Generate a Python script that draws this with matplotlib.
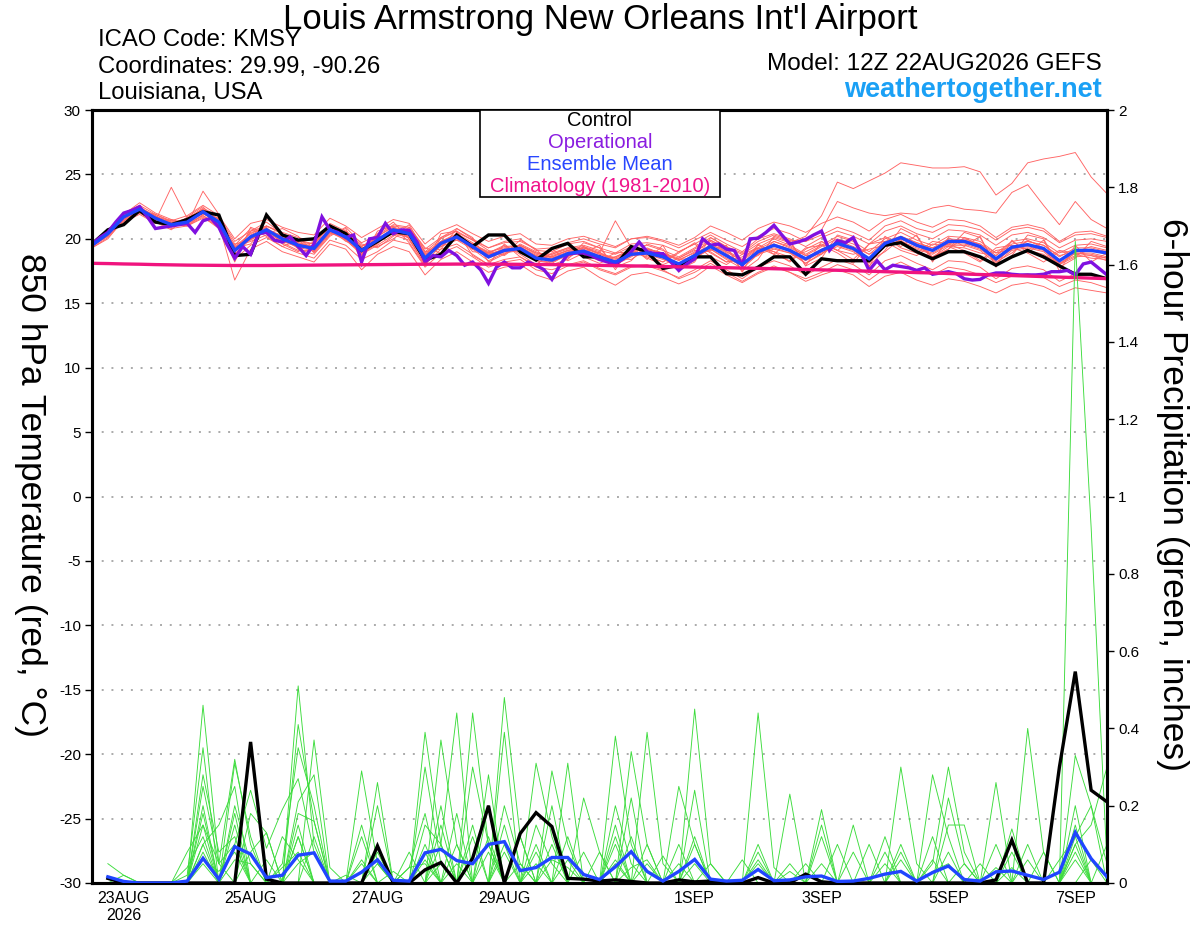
import numpy as np
import matplotlib
matplotlib.use("Agg")
import matplotlib.pyplot as plt
from matplotlib.patches import Rectangle
from matplotlib.ticker import FixedLocator, FixedFormatter

plt.rcParams['font.family'] = ['Liberation Sans', 'DejaVu Sans']

# ---------------- DATA ----------------
title = "Louis Armstrong New Orleans Int'l Airport"
station_lines = ["ICAO Code: KMSY", "Coordinates: 29.99, -90.26", "Louisiana, USA"]
model_line = "Model: 12Z 22AUG2026 GEFS"
site_line = "weathertogether.net"

# forecast hours (6-hourly for ensemble, 3-hourly for operational)
hours6 = np.arange(0, 385, 6)
hours3 = np.arange(0, 385, 3)
hours_p = np.arange(6, 385, 6)

tick_hours = [12, 60, 108, 156, 228, 276, 324, 372]
tick_labels = ["23AUG\n2026", "25AUG", "27AUG", "29AUG", "1SEP", "3SEP", "5SEP", "7SEP"]

# 850 hPa temperature (deg C)
control_t = [19.6, 20.7, 21.1, 22.2, 21.3, 21.1, 21.5, 22.1, 21.85, 18.7, 18.8, 21.85, 20.3,
             19.9, 20.0, 21.0, 20.4, 19.1, 19.8, 20.55, 20.4, 18.35, 18.8, 20.3, 19.4, 20.3,
             20.3, 19.0, 18.35, 19.25, 19.65, 18.6, 18.6, 17.95, 19.4, 19.0, 17.7, 17.95, 18.6,
             18.6, 17.3, 17.2, 17.8, 18.6, 18.6, 17.25, 18.45, 18.3, 18.3, 18.3, 19.5, 19.7,
             19.0, 18.45, 19.0, 19.0, 18.6, 17.95, 18.6, 19.1, 18.6, 17.9, 17.25, 17.25, 16.9]

mean_t = [19.5, 20.4, 21.7, 22.3, 21.6, 21.1, 21.3, 22.1, 21.3, 19.1, 20.15, 20.7, 20.0,
          19.5, 19.25, 20.7, 20.15, 19.1, 19.9, 20.7, 20.4, 18.5, 19.65, 20.15, 19.4, 18.6,
          19.1, 19.25, 18.5, 18.35, 18.85, 19.05, 18.6, 18.2, 18.8, 18.9, 18.6, 18.05, 18.7,
          19.4, 18.7, 18.0, 19.0, 19.5, 19.1, 18.45, 19.1, 19.65, 19.25, 18.45, 19.65, 20.1,
          19.5, 19.1, 19.8, 19.8, 19.4, 18.45, 19.35, 19.55, 19.25, 18.3, 19.1, 19.1, 18.9]

operational_t = [19.6, 20.1, 20.5, 21.3, 22.0, 22.2, 22.5, 21.7, 20.8, 20.9, 21.0, 21.1, 21.2, 20.5, 21.4, 21.6,
                 20.9, 19.6, 18.5, 19.4, 18.8, 20.4, 20.5, 19.9, 19.75, 20.15, 19.4, 18.7, 19.6, 21.7, 20.7, 20.5,
                 20.1, 20.3, 18.2, 20.0, 20.1, 21.2, 20.4, 20.7, 20.65, 19.75, 18.2, 18.7, 18.6, 19.1, 18.7, 17.95,
                 18.2, 17.6, 16.55, 17.8, 18.2, 17.75, 17.75, 18.2, 17.95, 17.6, 16.85, 17.95, 18.8, 18.9, 18.9, 18.7,
                 18.4, 18.2, 18.05, 18.45, 19.0, 19.75, 19.0, 18.85, 18.85, 18.2, 17.55, 18.05, 18.45, 20.0, 19.5, 19.6,
                 19.2, 19.1, 17.95, 20.0, 20.05, 20.5, 21.05, 20.3, 19.6, 19.75, 19.95, 20.3, 20.6, 19.1, 19.85, 19.7,
                 20.1, 18.85, 17.55, 18.3, 17.6, 17.95, 17.85, 17.75, 17.55, 17.75, 17.25, 17.35, 17.45, 17.3, 16.9, 16.8,
                 16.85, 17.2, 17.35, 17.35, 17.25, 17.2, 17.2, 17.2, 17.25, 17.45, 17.45, 17.55, 17.2, 18.05, 18.2, 17.7, 17.2]

climatology_t = [18.10, 18.08, 18.05, 18.03, 18.00, 17.98, 17.96, 17.95, 17.94, 17.93, 17.93, 17.93, 17.94,
                 17.95, 17.96, 17.97, 17.98, 17.99, 18.00, 18.01, 18.02, 18.03, 18.03, 18.04, 18.04, 18.04,
                 18.03, 18.02, 18.01, 18.00, 17.98, 17.96, 17.94, 17.92, 17.90, 17.88, 17.85, 17.83, 17.81,
                 17.78, 17.76, 17.73, 17.71, 17.68, 17.65, 17.62, 17.59, 17.56, 17.52, 17.49, 17.45, 17.42,
                 17.38, 17.35, 17.31, 17.27, 17.23, 17.19, 17.15, 17.11, 17.07, 17.03, 16.99, 16.95, 16.91]

t_mem01 = [19.6, 20.6, 22.0, 22.6, 21.9, 21.3, 21.5, 22.4, 21.7, 19.8, 20.6, 21.0, 20.5,
           20.1, 19.8, 21.2, 20.6, 19.7, 20.3, 21.1, 20.9, 19.2, 20.1, 20.8, 20.0, 19.3,
           19.8, 20.0, 19.1, 19.0, 19.6, 19.8, 19.3, 18.9, 19.6, 19.7, 19.5, 19.0, 19.6,
           20.3, 19.6, 19.0, 20.0, 20.4, 20.0, 19.4, 20.1, 20.6, 20.2, 19.6, 20.6, 21.0,
           20.4, 20.0, 20.7, 20.6, 20.3, 19.5, 20.3, 20.5, 20.1, 19.3, 19.9, 20.0, 19.8]
t_mem02 = [19.3, 20.1, 21.4, 22.0, 21.3, 20.8, 21.0, 21.7, 20.8, 18.4, 19.5, 20.1, 19.4,
           18.9, 18.5, 19.9, 19.5, 18.4, 19.0, 19.9, 19.6, 17.8, 18.9, 19.4, 18.6, 17.8,
           18.2, 18.4, 17.6, 17.3, 17.9, 18.2, 17.6, 17.2, 17.8, 17.9, 17.5, 17.0, 17.6,
           18.3, 17.6, 16.9, 17.8, 18.3, 17.9, 17.2, 17.8, 18.4, 18.0, 17.2, 18.3, 18.7,
           18.1, 17.6, 18.3, 18.2, 17.8, 16.9, 17.7, 17.9, 17.6, 16.7, 17.3, 17.2, 16.9]
t_mem03 = [19.4, 20.3, 21.9, 22.8, 22.0, 21.5, 21.2, 21.8, 20.9, 18.9, 20.6, 21.3, 20.4,
           19.2, 18.8, 20.2, 20.9, 19.6, 19.3, 20.2, 21.1, 19.0, 19.2, 20.8, 20.1, 18.2,
           18.8, 19.9, 19.2, 18.0, 18.4, 19.7, 19.3, 17.8, 18.3, 19.6, 19.2, 17.6, 18.2,
           20.1, 19.4, 17.5, 18.4, 20.2, 19.8, 17.9, 18.5, 20.3, 19.9, 17.9, 19.1, 20.8,
           20.2, 18.5, 19.2, 20.5, 20.1, 17.9, 18.7, 20.3, 20.0, 17.8, 18.5, 19.8, 19.4]
t_mem04 = [19.7, 20.5, 21.5, 22.1, 21.4, 24.0, 21.6, 22.3, 21.5, 19.4, 19.8, 20.3, 19.7,
           19.8, 19.6, 21.0, 20.4, 18.7, 20.4, 21.3, 20.0, 18.0, 20.1, 20.6, 19.0, 18.9,
           19.5, 18.8, 18.0, 18.9, 19.3, 18.6, 18.1, 18.6, 19.2, 18.5, 18.0, 18.5, 19.1,
           19.0, 18.2, 18.4, 19.5, 19.0, 18.6, 19.0, 19.6, 19.1, 18.8, 19.2, 19.5, 19.9,
           19.0, 18.6, 19.4, 19.3, 18.9, 18.7, 19.8, 19.1, 18.8, 18.0, 18.6, 18.7, 18.3]
t_mem05 = [19.6, 20.2, 21.6, 22.4, 21.8, 21.0, 21.1, 23.7, 21.9, 19.0, 20.0, 20.5, 20.2,
           19.6, 19.0, 20.5, 20.0, 19.3, 19.7, 20.5, 20.2, 18.8, 19.4, 19.9, 19.6, 18.9,
           18.8, 19.5, 18.9, 18.6, 18.5, 19.3, 18.8, 18.5, 18.4, 19.2, 18.9, 18.4, 18.5,
           19.6, 19.0, 18.3, 18.7, 19.8, 19.3, 18.7, 18.8, 19.9, 19.4, 18.8, 19.4, 20.2,
           19.7, 19.3, 19.6, 20.0, 19.6, 18.9, 19.2, 19.8, 19.5, 18.7, 19.0, 19.4, 19.1]
t_mem06 = [19.5, 20.4, 21.8, 22.2, 21.5, 21.2, 21.4, 22.0, 21.1, 16.8, 19.2, 19.8, 19.0,
           18.6, 18.2, 19.6, 19.2, 17.6, 18.8, 19.4, 19.0, 17.2, 18.4, 19.0, 18.2, 17.4,
           17.8, 18.0, 17.2, 16.8, 17.5, 17.8, 17.0, 16.4, 17.2, 17.4, 17.0, 16.5, 17.0,
           17.9, 17.2, 16.6, 17.3, 17.8, 17.4, 16.9, 17.4, 18.0, 17.6, 16.8, 17.7, 18.2,
           17.6, 17.2, 17.8, 17.6, 17.2, 16.6, 17.1, 17.3, 17.0, 16.3, 16.8, 16.6, 16.2]
t_mem07 = [19.4, 20.6, 21.8, 22.5, 21.7, 21.4, 21.8, 22.6, 21.8, 20.0, 21.2, 21.5, 20.9,
           20.5, 20.3, 21.6, 21.0, 20.1, 20.8, 21.5, 21.2, 19.6, 20.6, 21.1, 20.4, 19.8,
           20.2, 20.4, 19.6, 19.5, 20.0, 20.2, 19.8, 19.4, 20.0, 20.1, 19.8, 19.3, 19.9,
           20.5, 19.9, 19.4, 20.2, 20.8, 20.4, 19.8, 20.3, 20.9, 20.5, 19.9, 21.0, 21.4,
           20.8, 20.5, 21.1, 21.0, 20.7, 19.9, 20.7, 20.9, 20.6, 19.7, 20.3, 20.4, 20.1]
t_mem08 = [19.5, 20.3, 21.3, 21.9, 21.2, 21.5, 21.0, 21.6, 21.0, 19.5, 20.8, 20.2, 19.4,
           19.9, 19.0, 20.4, 20.6, 19.5, 19.4, 20.0, 20.9, 19.3, 18.9, 20.5, 19.9, 19.1,
           18.7, 19.6, 19.0, 18.5, 18.6, 19.4, 19.0, 18.0, 18.6, 19.3, 18.8, 17.8, 18.3,
           19.6, 18.9, 17.9, 18.8, 19.6, 19.0, 18.1, 18.8, 19.8, 19.3, 18.3, 19.0, 20.0,
           19.6, 18.6, 19.2, 20.1, 19.5, 18.2, 18.9, 19.9, 19.3, 18.1, 18.7, 19.2, 18.8]
t_mem09 = [19.3, 20.0, 21.5, 22.3, 21.6, 20.9, 21.3, 22.1, 21.4, 19.3, 19.6, 21.0, 20.4,
           19.3, 19.5, 21.1, 19.9, 18.9, 20.2, 20.9, 20.0, 18.3, 19.8, 19.9, 19.2, 18.8,
           19.2, 19.0, 18.4, 18.7, 19.1, 18.8, 18.3, 18.9, 19.0, 18.6, 18.2, 19.0, 19.6,
           18.6, 18.0, 18.8, 19.3, 18.8, 18.3, 19.3, 19.5, 18.9, 18.1, 19.6, 19.8, 19.1,
           18.7, 19.6, 19.4, 18.9, 18.2, 19.1, 19.3, 18.9, 18.2, 19.0, 18.8, 18.5, 18.4]
t_mem10 = [19.6, 20.4, 21.9, 22.2, 21.4, 21.0, 21.2, 22.2, 21.2, 18.6, 20.3, 20.9, 19.7,
           19.1, 19.1, 20.9, 20.3, 18.9, 19.6, 20.9, 20.6, 18.1, 19.5, 20.3, 19.2, 18.3,
           18.9, 19.1, 18.3, 18.1, 18.8, 19.0, 18.4, 18.0, 18.8, 18.8, 18.5, 17.8, 18.6,
           19.2, 18.4, 17.7, 18.8, 19.2, 18.9, 18.1, 18.9, 19.4, 19.0, 18.1, 19.4, 19.7,
           19.2, 18.8, 19.5, 19.5, 19.1, 18.1, 19.1, 19.3, 19.0, 18.0, 18.9, 18.8, 18.5]
t_mem11 = [19.5, 20.5, 21.6, 22.4, 21.6, 21.3, 21.2, 22.0, 21.4, 19.3, 20.0, 20.8, 20.2,
           19.7, 19.4, 20.6, 20.1, 19.2, 20.0, 20.7, 20.5, 18.6, 19.7, 20.1, 19.6, 19.0,
           19.3, 19.5, 18.8, 18.6, 19.1, 19.3, 18.9, 21.4, 19.3, 19.2, 18.9, 18.3, 19.0,
           19.8, 19.0, 18.3, 19.2, 19.8, 19.4, 18.7, 19.4, 20.0, 19.6, 18.8, 19.8, 20.2,
           19.7, 19.3, 20.0, 19.9, 19.6, 18.7, 19.6, 19.8, 19.5, 18.6, 19.3, 19.3, 19.0]
t_mem12 = [19.4, 20.2, 21.7, 22.1, 21.7, 21.0, 21.4, 22.0, 21.2, 18.8, 20.0, 20.5, 19.8,
           19.4, 19.2, 20.6, 20.0, 18.8, 19.7, 20.5, 20.2, 18.4, 19.6, 20.0, 19.3, 18.5,
           19.0, 19.1, 18.3, 18.2, 18.7, 18.9, 18.4, 18.1, 18.7, 18.8, 18.4, 17.9, 18.5,
           19.2, 18.5, 17.9, 18.9, 19.3, 18.9, 18.3, 19.0, 19.5, 19.1, 18.3, 19.5, 19.8,
           19.3, 18.9, 19.6, 19.6, 19.2, 18.3, 19.2, 19.4, 19.1, 18.1, 18.9, 18.9, 18.6]
t_mem13 = [19.6, 20.7, 21.9, 22.2, 21.3, 20.7, 21.7, 22.5, 21.0, 18.2, 20.9, 20.4, 20.8,
           20.2, 18.9, 20.3, 20.8, 18.3, 20.6, 21.0, 19.7, 17.9, 20.4, 20.6, 18.7, 18.0,
           19.6, 18.6, 17.9, 19.2, 18.3, 18.9, 19.5, 17.6, 19.4, 18.4, 19.5, 17.4, 18.9,
           19.1, 19.5, 17.4, 19.6, 18.8, 19.9, 17.9, 19.8, 19.1, 20.0, 17.8, 20.2, 19.4,
           20.3, 18.2, 20.1, 19.4, 20.2, 17.8, 19.9, 18.9, 19.9, 17.5, 19.5, 18.2, 18.9]
t_mem14 = [19.5, 20.4, 21.6, 22.3, 21.5, 21.0, 21.2, 22.1, 21.2, 19.1, 20.1, 20.6, 19.9,
           19.3, 19.1, 20.5, 19.9, 18.8, 19.5, 20.3, 19.9, 18.0, 19.2, 19.6, 18.8, 18.0,
           18.4, 18.6, 17.8, 17.6, 18.0, 18.3, 17.7, 17.3, 17.9, 18.0, 17.6, 16.9, 17.4,
           18.1, 17.4, 16.7, 17.4, 17.9, 17.4, 16.7, 17.2, 17.6, 17.2, 16.3, 17.1, 17.4,
           16.8, 16.4, 16.9, 16.7, 16.3, 15.8, 16.4, 16.6, 16.3, 15.7, 16.2, 16.0, 15.8]
t_mem15 = [19.4, 20.5, 21.8, 22.0, 21.6, 21.2, 21.0, 21.9, 21.6, 19.6, 19.9, 20.6, 20.3,
           19.5, 19.7, 20.5, 20.2, 19.0, 19.7, 20.8, 20.6, 18.9, 19.8, 20.4, 19.7, 18.7,
           19.2, 19.4, 18.6, 18.8, 19.2, 19.4, 18.8, 18.4, 19.0, 19.2, 18.8, 18.4, 18.9,
           19.9, 19.1, 18.4, 19.3, 20.0, 19.5, 18.8, 19.5, 20.2, 19.8, 19.0, 20.0, 20.5,
           19.9, 19.5, 20.2, 20.1, 19.8, 18.9, 19.8, 20.0, 19.7, 18.9, 19.5, 19.6, 19.3]
t_mem16 = [19.6, 20.4, 21.7, 22.4, 21.8, 21.2, 21.6, 22.3, 21.5, 19.4, 20.4, 21.0, 20.4,
           19.9, 19.6, 21.0, 20.5, 19.4, 20.2, 21.0, 20.8, 19.0, 20.0, 20.6, 19.9, 19.3,
           19.7, 19.8, 19.2, 19.3, 19.7, 20.0, 19.6, 19.3, 20.0, 20.2, 19.9, 19.5, 20.1,
           21.0, 20.5, 19.9, 20.8, 21.3, 21.0, 20.5, 21.2, 21.7, 21.3, 20.6, 21.5, 21.9,
           21.3, 20.9, 21.5, 21.4, 21.0, 20.1, 20.9, 21.1, 20.8, 19.8, 20.5, 20.6, 20.2]
t_mem17 = [19.5, 20.3, 21.4, 22.2, 21.9, 21.4, 21.1, 21.8, 21.1, 19.2, 20.5, 20.8, 19.6,
           19.0, 19.8, 20.8, 19.8, 19.4, 20.1, 20.4, 20.1, 18.7, 19.4, 20.3, 19.3, 18.9,
           19.0, 19.4, 18.7, 18.2, 18.9, 19.0, 18.5, 18.6, 19.1, 18.7, 18.2, 18.9, 19.7,
           18.9, 18.2, 18.6, 19.3, 19.0, 18.2, 19.2, 19.8, 19.1, 18.4, 19.6, 20.1, 19.3,
           18.9, 19.8, 19.6, 19.1, 18.3, 19.3, 19.5, 19.2, 18.5, 19.1, 18.9, 18.7, 18.5]
t_mem18 = [19.4, 20.6, 21.9, 22.1, 21.4, 21.1, 21.5, 22.0, 21.6, 19.0, 20.0, 20.6, 20.1,
           19.7, 19.2, 20.6, 20.0, 19.1, 19.9, 20.7, 20.3, 18.6, 19.8, 20.1, 19.5, 18.7,
           19.1, 19.3, 18.6, 18.5, 19.0, 19.2, 18.7, 18.3, 18.9, 19.0, 18.6, 18.1, 18.8,
           19.5, 18.8, 18.1, 19.1, 19.6, 19.2, 18.5, 19.2, 19.7, 19.3, 18.5, 19.7, 20.0,
           19.4, 19.1, 19.8, 19.7, 19.3, 18.4, 19.3, 19.5, 19.2, 18.3, 19.1, 19.1, 18.8]
t_mem19 = [19.5, 20.3, 21.6, 22.3, 21.7, 21.1, 21.4, 22.0, 21.2, 19.2, 20.1, 20.6, 20.0,
           19.4, 19.3, 20.6, 20.1, 19.2, 19.9, 20.6, 20.4, 18.7, 19.6, 20.2, 19.5, 18.8,
           19.2, 19.3, 18.7, 18.6, 19.1, 19.3, 18.9, 18.5, 19.1, 19.2, 18.9, 18.5, 19.2,
           19.9, 19.3, 18.8, 19.6, 20.1, 19.7, 20.2, 21.8, 24.4, 23.9, 24.5, 25.1, 25.9,
           25.7, 25.5, 25.5, 25.6, 25.2, 23.4, 24.3, 25.9, 26.2, 26.4, 26.7, 24.8, 23.5]
t_mem20 = [19.6, 20.5, 21.7, 22.2, 21.5, 21.2, 21.3, 22.2, 21.3, 19.3, 20.2, 20.7, 20.1,
           19.6, 19.4, 20.8, 20.3, 19.2, 20.0, 20.8, 20.5, 18.8, 19.8, 20.3, 19.6, 18.9,
           19.4, 19.5, 18.9, 18.8, 19.3, 19.5, 19.1, 18.8, 19.4, 19.5, 19.1, 18.6, 19.3,
           20.1, 19.4, 18.9, 19.8, 20.3, 19.9, 19.8, 20.7, 22.9, 22.4, 22.0, 21.8, 22.0,
           21.9, 22.4, 22.6, 22.3, 22.2, 22.0, 23.6, 24.2, 22.6, 21.1, 22.9, 21.5, 20.8]
temp_members = [t_mem01, t_mem02, t_mem03, t_mem04, t_mem05, t_mem06, t_mem07, t_mem08, t_mem09, t_mem10,
                t_mem11, t_mem12, t_mem13, t_mem14, t_mem15, t_mem16, t_mem17, t_mem18, t_mem19, t_mem20]

# 6-hour precipitation (inches), hours 6..384
control_p = [0.012, 0, 0, 0, 0, 0, 0, 0, 0, 0.365, 0.01, 0, 0, 0, 0, 0,
             0, 0.096, 0, 0, 0.034, 0.053, 0, 0.064, 0.20, 0, 0.128, 0.182, 0.146, 0.012, 0.01, 0.005,
             0.008, 0.004, 0, 0, 0.008, 0.003, 0.005, 0, 0, 0.014, 0, 0, 0.023, 0.003, 0, 0,
             0, 0, 0, 0, 0, 0, 0, 0, 0.008, 0.111, 0, 0, 0.30, 0.547, 0.24, 0.21]
mean_p = [0.016, 0.004, 0, 0, 0, 0.005, 0.064, 0.01, 0.094, 0.075, 0.014, 0.02, 0.072, 0.078, 0.005, 0.005,
          0.028, 0.06, 0.007, 0.005, 0.078, 0.087, 0.058, 0.05, 0.10, 0.107, 0.032, 0.04, 0.066, 0.066, 0.022, 0.009,
          0.042, 0.081, 0.03, 0.005, 0.03, 0.061, 0.01, 0.005, 0.007, 0.035, 0.006, 0.008, 0.016, 0.018, 0.004, 0.005,
          0.012, 0.023, 0.03, 0.005, 0.027, 0.044, 0.009, 0.005, 0.029, 0.031, 0.02, 0.009, 0.028, 0.131, 0.063, 0.016]

p_mem01 = [0, 0, 0, 0, 0, 0, .46, .05, 0, 0, 0, 0, .12, 0, 0, 0,
           0, 0, 0, 0, .39, .1, 0, 0, 0, .2, .05, 0, 0, 0, 0, 0,
           .38, .1, 0, 0, 0, 0, 0, 0, 0, .1, 0, 0, 0, 0, 0, 0,
           0, 0, 0, 0, .05, .30, .08, 0, 0, 0, 0, 0, 0, .15, 0, 0]
p_mem02 = [0, 0, 0, 0, 0, .02, .35, 0, .2, .05, 0, 0, .51, .1, 0, 0,
           0, 0, 0, 0, 0, 0, 0, .44, .1, 0, 0, .15, .05, 0, 0, 0,
           0, 0, 0, 0, 0, .45, .05, 0, 0, 0, 0, 0, 0, 0, 0, 0,
           0, 0, .1, 0, 0, 0, 0, 0, 0, 0, 0, 0, 0, 1.66, .92, .05]
p_mem03 = [0, 0, 0, 0, 0, 0, .25, .05, .32, .1, 0, 0, 0, .37, .04, 0,
           0, .26, 0, 0, 0, .1, .44, 0, 0, 0, 0, 0, .29, .1, 0, 0,
           0, 0, .39, .05, 0, 0, 0, 0, 0, 0, 0, 0, 0, .19, 0, 0,
           0, 0, 0, 0, 0, 0, 0, 0, 0, 0, .40, .08, 0, 0, 0, 0]
p_mem04 = [.05, .02, 0, 0, 0, 0, .1, 0, .31, .12, 0, 0, .41, .16, 0, 0,
           .29, .05, 0, 0, 0, .37, .1, 0, 0, .48, .12, 0, 0, .31, 0, 0,
           0, .34, .1, 0, 0, 0, 0, 0, 0, 0, 0, .23, 0, 0, 0, 0,
           0, 0, 0, 0, .28, .12, 0, 0, .26, 0, 0, 0, 0, .33, .2, .05]
p_mem05 = [0, 0, 0, 0, 0, 0, .2, 0, .1, .24, .09, .19, .27, .08, 0, 0,
           0, .08, 0, 0, .3, .05, 0, .3, .1, 0, 0, .31, .12, 0, 0, 0,
           .2, .05, 0, 0, .25, .1, 0, 0, 0, .44, .04, 0, 0, 0, 0, 0,
           0, .12, 0, 0, 0, .22, .05, 0, 0, 0, 0, 0, 0, .1, .15, .3]
p_mem06 = [0, 0, 0, 0, 0, .08, .15, 0, 0, .18, .13, 0, .21, .28, 0, .02,
           0, .2, 0, .04, .18, 0, 0, 0, .28, 0, 0, 0, .2, 0, .22, .08,
           0, 0, 0, 0, 0, .24, 0, 0, 0, 0, 0, 0, 0, .15, 0, 0,
           0, 0, .3, .05, 0, 0, 0, 0, 0, .14, 0, 0, 0, 0, 0, 0]
p_mem07 = [0, 0, 0, 0, 0, 0, .1, .15, .25, 0, 0, 0, .12, 0, 0, 0,
           .05, 0, 0, .08, 0, .2, 0, 0, 0, .39, 0, 0, 0, .12, 0, 0,
           .1, 0, .1, 0, 0, .1, 0, 0, 0, 0, 0, 0, 0, 0, 0, .15,
           0, 0, 0, 0, .12, 0, 0, 0, 0, 0, .1, 0, 0, .2, 0, 0]
p_mem08 = [0, 0, 0, 0, 0, 0, .05, 0, .15, 0, .06, 0, 0, .12, 0, 0,
           0, 0, 0, 0, .1, 0, .18, 0, .2, 0, .12, 0, 0, 0, .08, 0,
           0, .22, 0, 0, .1, 0, 0, 0, 0, 0, 0, .05, 0, .12, 0, 0,
           0, .08, 0, 0, 0, .15, .15, 0, 0, 0, 0, .08, 0, 0, 0, 0]
p_mem09 = [0, 0, 0, 0, 0, 0, .28, .08, .12, 0, 0, .12, .06, 0, 0, 0,
           .15, 0, 0, 0, 0, .15, 0, .15, 0, .1, 0, .08, 0, 0, 0, 0,
           .05, 0, 0, .07, 0, 0, 0, 0, .06, 0, 0, 0, 0, 0, 0, 0,
           .1, 0, 0, 0, .06, 0, 0, 0, .1, 0, 0, 0, 0, .12, .2, 0]
p_mem10 = [0, 0, 0, 0, 0, .04, .12, 0, 0, .08, .13, 0, .18, .16, 0, 0,
           0, .1, 0, 0, .08, 0, .1, 0, .12, 0, 0, 0, .1, 0, 0, .08,
           0, .12, 0, 0, .05, 0, 0, 0, 0, .08, 0, 0, 0, 0, .1, 0,
           0, 0, .08, 0, 0, 0, 0, .05, 0, 0, 0, 0, .06, .12, 0, 0]
p_mem11 = [0, 0, 0, 0, 0, 0, .15, .05, .1, 0, 0, .05, .35, .2, 0, 0,
           0, 0, .03, 0, 0, .05, 0, .12, 0, 0, .05, 0, 0, .06, 0, 0,
           .12, 0, .05, 0, 0, 0, .05, 0, 0, 0, 0, 0, .05, 0, 0, 0,
           0, .05, 0, 0, 0, 0, 0, 0, 0, .08, 0, 0, 0, .08, 0, 0]
p_mem12 = [0, 0, 0, 0, 0, 0, .08, 0, .06, .05, 0, 0, .05, .08, 0, 0,
           .06, 0, 0, .04, .05, 0, 0, 0, 0, .15, 0, .05, 0, 0, 0, 0,
           .06, 0, 0, 0, 0, .05, 0, 0, 0, 0, 0, .03, 0, 0, 0, .08,
           0, 0, 0, 0, .03, .05, 0, 0, .04, 0, 0, 0, 0, .06, 0, 0]
p_mem13 = [0, .02, 0, 0, 0, 0, .06, .03, .08, 0, 0, .04, .08, 0, 0, 0,
           0, .05, 0, 0, .06, 0, .05, 0, 0, .08, 0, 0, .06, .04, 0, 0,
           0, .04, .06, 0, 0, 0, 0, 0, 0, .05, 0, 0, 0, .05, 0, 0,
           0, 0, 0, 0, 0, .08, 0, 0, 0, .04, 0, 0, 0, .1, 0, .1]
p_mem14 = [0, 0, 0, 0, 0, 0, .18, 0, .18, 0, 0, 0, .15, 0, 0, 0,
           .12, 0, 0, 0, .15, .1, 0, 0, .08, 0, 0, .1, 0, 0, 0, 0,
           .15, 0, 0, 0, 0, .12, 0, 0, 0, .06, 0, 0, 0, 0, 0, 0,
           0, 0, .06, 0, 0, 0, .05, 0, 0, 0, .06, 0, 0, 0, .06, 0]
precip_members = [p_mem01, p_mem02, p_mem03, p_mem04, p_mem05, p_mem06, p_mem07,
                  p_mem08, p_mem09, p_mem10, p_mem11, p_mem12, p_mem13, p_mem14]

legend_labels = ["Control", "Operational", "Ensemble Mean", "Climatology (1981-2010)"]

# ---------------- STYLE ----------------
C_RED = '#FF6464'
C_GREEN = '#3CDC3C'
C_CTRL = '#000000'
C_OPER = '#8010E0'
C_MEAN = '#2045FF'
C_CLIM = '#F0147E'
legend_colors = [C_CTRL, '#8A1CE0', '#2846FF', '#F0148C']

W, H = 1200, 927
fig = plt.figure(figsize=(W / 100, H / 100), dpi=100)
L, R, T, B = 92, 1107, 110, 883
ax = fig.add_axes([L / W, 1 - B / H, (R - L) / W, (B - T) / H])
ax2 = ax.twinx()

for mem in temp_members:
    ax.plot(hours6, mem, color=C_RED, lw=0.65, zorder=2)

ax.plot(hours6, control_t, color=C_CTRL, lw=2.4, zorder=4, solid_joinstyle='miter')
ax.plot(hours3, operational_t, color=C_OPER, lw=2.4, zorder=5, solid_joinstyle='miter')
ax.plot(hours6, mean_t, color=C_MEAN, lw=2.4, zorder=6, solid_joinstyle='miter')
ax.plot(hours6, climatology_t, color=C_CLIM, lw=2.4, zorder=7)

for mem in precip_members:
    ax2.plot(hours_p, mem, color=C_GREEN, lw=0.65, zorder=2)
ax2.plot(hours_p, control_p, color=C_CTRL, lw=2.4, zorder=4, solid_joinstyle='miter')
ax2.plot(hours_p, mean_p, color=C_MEAN, lw=2.4, zorder=5, solid_joinstyle='miter')

ax.set_xlim(0, 384)
ax.set_ylim(-30, 30)
ax2.set_ylim(0, 2)

ax.set_yticks(np.arange(-30, 31, 5))
ax.set_yticklabels([str(v) for v in range(-30, 31, 5)])
ax.grid(axis='y', color='#AAAAAA', linestyle=(0, (1, 4)), linewidth=1.4)
ax.set_axisbelow(True)

ax.set_xticks(tick_hours)
ax.set_xticklabels(tick_labels, fontsize=11.5, linespacing=1.1)
ax.tick_params(axis='x', length=0, pad=6)
ax.tick_params(axis='y', direction='out', length=5, width=1, labelsize=11, pad=3)

r_ticks = [0, 0.2, 0.4, 0.6, 0.8, 1.0, 1.2, 1.4, 1.6, 1.8, 2.0]
r_labels = ['0', '0.2', '0.4', '0.6', '0.8', '1', '1.2', '1.4', '1.6', '1.8', '2']
ax2.yaxis.set_major_locator(FixedLocator(r_ticks))
ax2.yaxis.set_major_formatter(FixedFormatter(r_labels))
ax2.tick_params(axis='y', direction='out', length=5, width=1, labelsize=11, pad=3)

for a in (ax, ax2):
    for s in a.spines.values():
        s.set_linewidth(2.2)
        s.set_color('black')

# Y labels (both read top-to-bottom)
fig.text(30 / W, 1 - 495 / H, "850 hPa Temperature (red, \u00b0C)", rotation=270,
         ha='center', va='center', fontsize=25.5)
fig.text(1172 / W, 1 - 495 / H, "6-hour Precipitation (green, inches)", rotation=270,
         ha='center', va='center', fontsize=25.5)

# Titles
fig.text(600 / W, 1 - 19 / H, title, ha='center', va='center', fontsize=25)
for k, line in enumerate(station_lines):
    fig.text(98 / W, 1 - (40 + 26.5 * k) / H, line, ha='left', va='center', fontsize=17.2)
fig.text(1102 / W, 1 - 64 / H, model_line, ha='right', va='center', fontsize=17.5)
fig.text(1102 / W, 1 - 90 / H, site_line, ha='right', va='center', fontsize=19.5,
         fontweight='bold', color='#1AA0F5')

# Legend box
fig.add_artist(Rectangle((480 / W, 1 - 197 / H), 240 / W, 87 / H, transform=fig.transFigure,
                         facecolor='white', edgecolor='black', lw=1.2, zorder=5))
for k, (lab, col) in enumerate(zip(legend_labels, legend_colors)):
    fig.text(600 / W, 1 - (121 + 21.7 * k) / H, lab, ha='center', va='center',
             fontsize=14.5, color=col, zorder=6)

fig.savefig("out.png", dpi=100)
